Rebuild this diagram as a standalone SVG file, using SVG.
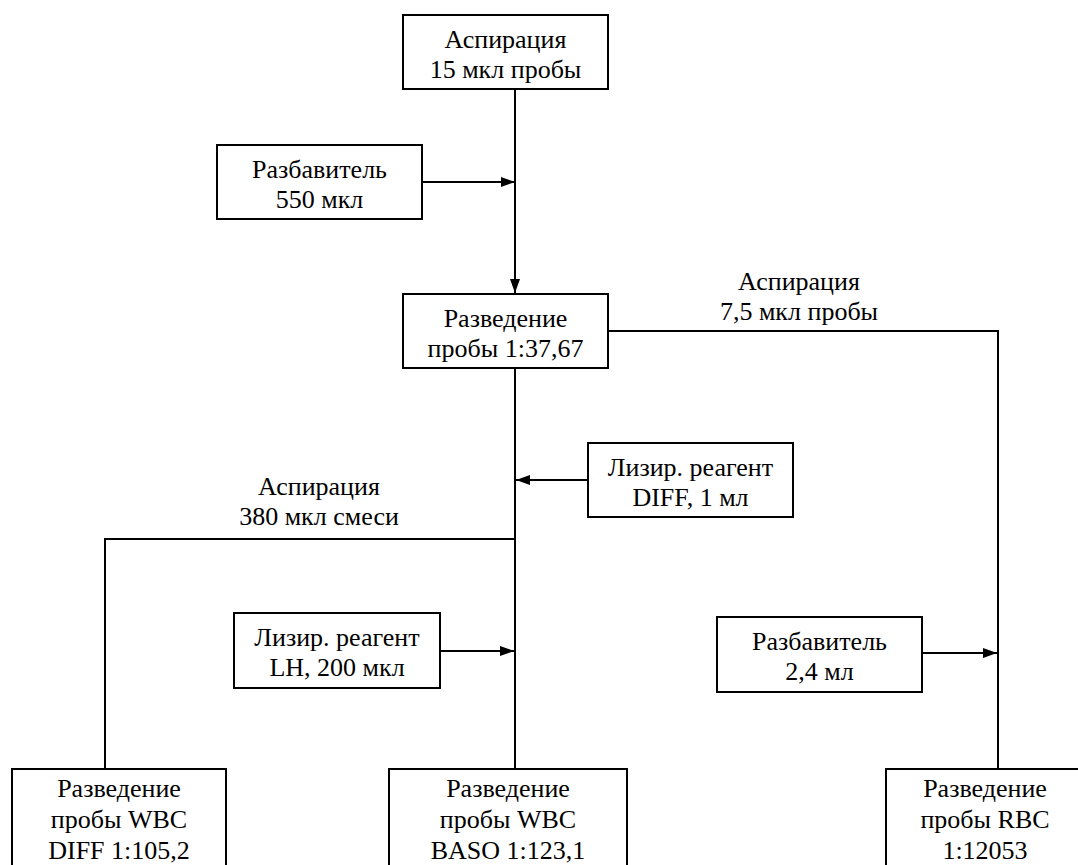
<svg xmlns="http://www.w3.org/2000/svg" width="1078" height="865" viewBox="0 0 1078 865">
<style>
.box{fill:#fff;stroke:#000;stroke-width:2}
.t{font-family:"Liberation Serif","Times New Roman",serif;font-size:26px;fill:#000;text-anchor:middle}
.c{fill:none;stroke:#000;stroke-width:2}
</style>
<defs>
<marker id="arr" markerWidth="14" markerHeight="10" refX="14" refY="5" orient="auto" markerUnits="userSpaceOnUse">
<path d="M0,0 L14,5 L0,10 Z" fill="#000"/>
</marker>
</defs>
<rect width="1078" height="865" fill="#fff"/>
<g id="connectors">
<line class="c" x1="515" y1="89" x2="515" y2="293" marker-end="url(#arr)"/>
<line class="c" x1="422" y1="182" x2="515" y2="182" marker-end="url(#arr)"/>
<polyline class="c" points="608,331 998,331 998,769"/>
<line class="c" x1="515" y1="368" x2="515" y2="769"/>
<line class="c" x1="588" y1="480" x2="516" y2="480" marker-end="url(#arr)"/>
<polyline class="c" points="515,539 105,539 105,769"/>
<line class="c" x1="440" y1="651" x2="514" y2="651" marker-end="url(#arr)"/>
<line class="c" x1="922" y1="653" x2="997" y2="653" marker-end="url(#arr)"/>
<text class="t" x="799" y="290">Аспирация</text>
<text class="t" x="799" y="320">7,5 мкл пробы</text>
<text class="t" x="319" y="495">Аспирация</text>
<text class="t" x="319" y="525">380 мкл смеси</text>
</g>
<g id="n1"><rect class="box" x="403" y="15" width="205" height="74"/><text class="t" x="505.5" y="48">Аспирация</text><text class="t" x="505.5" y="78">15 мкл пробы</text></g>
<g id="n2"><rect class="box" x="217" y="145" width="205" height="74"/><text class="t" x="319.5" y="178">Разбавитель</text><text class="t" x="319.5" y="208">550 мкл</text></g>
<g id="n3"><rect class="box" x="403" y="294" width="205" height="74"/><text class="t" x="505.5" y="327">Разведение</text><text class="t" x="505.5" y="357">пробы 1:37,67</text></g>
<g id="n4"><rect class="box" x="588" y="443" width="205" height="74"/><text class="t" x="690.5" y="476">Лизир. реагент</text><text class="t" x="690.5" y="506">DIFF, 1 мл</text></g>
<g id="n5"><rect class="box" x="234" y="613" width="206" height="75"/><text class="t" x="337" y="646">Лизир. реагент</text><text class="t" x="337" y="676">LH, 200 мкл</text></g>
<g id="n6"><rect class="box" x="717" y="617" width="205" height="75"/><text class="t" x="819.5" y="650">Разбавитель</text><text class="t" x="819.5" y="680">2,4 мл</text></g>
<g id="n7"><rect class="box" x="12" y="769" width="214" height="110"/><text class="t" x="119" y="797">Разведение</text><text class="t" x="119" y="828">пробы WBC</text><text class="t" x="119" y="859">DIFF 1:105,2</text></g>
<g id="n8"><rect class="box" x="389" y="769" width="238" height="110"/><text class="t" x="508" y="797">Разведение</text><text class="t" x="508" y="828">пробы WBC</text><text class="t" x="508" y="859">BASO 1:123,1</text></g>
<g id="n9"><rect class="box" x="886" y="769" width="200" height="110"/><text class="t" x="985" y="797">Разведение</text><text class="t" x="985" y="828">пробы RBC</text><text class="t" x="985" y="859">1:12053</text></g>
</svg>
